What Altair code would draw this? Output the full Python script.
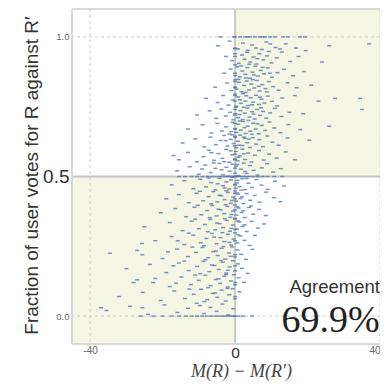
import altair as alt
import pandas as pd

# ---- data: (M(R)-M(R'), fraction of votes) ----
row_100_x = [-4.1, -0.3, 0, 1.4, 2.8, 3.4, 4.1, 5.5, 6.9, 7.6, 8.3, 9.7, 11.0, 13.3, 14.6, 17.9, 19.3]

band_95 = [(-4.7,.968),(-1.5,.985),(0.8,.957),(2.2,.978),(3.5,.952),(4.7,.971),(5.8,.96),(7.4,.955),(8.6,.982),(9.7,.975),(11.2,.962),(12.4,.957),(14.0,.975),(16.8,.96),(19.5,.951),(26.0,.968),(37.0,.975),(0,.958)]
band_90 = [(-2.5,.93),(-0.8,.915),(0,.94),(1.0,.905),(1.9,.935),(2.6,.92),(3.3,.945),(4.2,.91),(5.1,.928),(5.9,.903),(6.7,.94),(7.8,.918),(8.8,.932),(10.1,.907),(11.5,.925),(12.9,.946),(15.2,.912),(17.5,.93),(24.0,.91),(3.9,.902),(6.2,.922),(9.3,.948)]
band_85 = [(-3.0,.87),(-1.2,.885),(0,.862),(0.6,.893),(1.3,.857),(2.0,.878),(2.8,.866),(3.4,.89),(4.1,.852),(4.8,.874),(5.6,.895),(6.3,.86),(7.1,.88),(8.0,.868),(9.0,.889),(10.2,.855),(11.7,.872),(13.5,.884),(16.0,.861),(19.0,.876),(1.7,.896),(3.0,.853),(5.2,.864),(7.6,.891),(9.6,.87)]
band_80 = [(-5.5,.82),(-2.2,.835),(-1.0,.808),(0,.846),(0.4,.813),(1.1,.838),(1.8,.803),(2.5,.826),(3.2,.842),(3.8,.81),(4.5,.831),(5.3,.817),(6.0,.844),(6.8,.806),(7.5,.829),(8.4,.815),(9.3,.84),(10.5,.822),(12.0,.809),(14.5,.836),(17.0,.818),(21.0,.827),(0.9,.848),(2.9,.801),(4.9,.847),(6.5,.823),(8.8,.803),(0,.818)]
band_75 = [(-8.0,.78),(-4.8,.765),(-3.3,.79),(-1.8,.756),(-0.6,.774),(0,.795),(0.3,.752),(0.9,.785),(1.6,.762),(2.2,.797),(2.9,.77),(3.6,.754),(4.3,.782),(5.0,.766),(5.8,.791),(6.6,.758),(7.3,.777),(8.1,.763),(9.0,.788),(10.2,.769),(11.6,.753),(13.0,.781),(16.5,.79),(23.0,.77),(27.6,.78),(34.5,.78),(1.3,.775),(3.1,.789),(4.7,.757),(6.9,.784)]
band_70 = [(-10.5,.72),(-7.0,.735),(-5.2,.708),(-3.8,.742),(-2.6,.717),(-1.4,.73),(-0.5,.703),(0,.725),(0.2,.748),(0.8,.711),(1.5,.736),(2.1,.704),(2.7,.727),(3.4,.745),(4.0,.713),(4.7,.732),(5.4,.706),(6.1,.74),(6.9,.719),(7.7,.733),(8.6,.709),(9.7,.728),(11.0,.744),(12.8,.715),(15.0,.73),(18.8,.725),(35.0,.74),(1.2,.722),(2.4,.748),(3.7,.701),(5.1,.724),(7.2,.746)]
band_65 = [(-13.0,.67),(-9.0,.685),(-6.5,.656),(-4.9,.69),(-3.6,.663),(-2.5,.678),(-1.6,.652),(-0.7,.694),(0,.672),(0.3,.658),(0.9,.687),(1.6,.666),(2.2,.697),(2.9,.654),(3.5,.68),(4.2,.662),(5.0,.691),(5.7,.67),(6.5,.653),(7.4,.683),(8.3,.665),(9.5,.695),(10.8,.674),(12.5,.657),(14.7,.686),(18.0,.668),(26.0,.68),(-1.1,.661),(1.3,.699),(2.6,.675),(4.6,.651),(6.2,.689)]
band_60 = [(-14.5,.62),(-11.0,.635),(-8.5,.606),(-6.8,.641),(-5.3,.614),(-4.0,.629),(-3.0,.647),(-2.1,.609),(-1.2,.633),(-0.4,.618),(0,.644),(0.3,.603),(0.8,.626),(1.4,.648),(2.0,.611),(2.7,.637),(3.4,.621),(4.1,.604),(4.9,.639),(5.8,.616),(6.7,.632),(7.7,.607),(8.9,.645),(10.3,.623),(12.0,.612),(14.5,.638),(20.5,.63),(-2.6,.628),(-0.8,.649),(1.1,.612),(2.4,.641),(3.8,.634)]
band_55 = [(-17.0,.575),(-15.5,.56),(-13.0,.586),(-10.5,.553),(-8.7,.571),(-7.2,.594),(-5.8,.558),(-4.6,.582),(-3.5,.565),(-2.5,.597),(-1.6,.551),(-0.8,.578),(0,.563),(0.2,.59),(0.7,.556),(1.3,.574),(2.0,.598),(2.8,.561),(3.6,.584),(4.5,.552),(5.5,.576),(6.6,.593),(7.9,.559),(9.4,.58),(11.5,.566),(14.0,.588),(-6.5,.585),(-3.0,.553),(-1.2,.592),(0.9,.569),(2.4,.581),(16.5,.56)]
row_50_x = [-15.5, -13.8, -12.0, -10.5, -9.0, -7.6, -6.4, -5.2, -4.1, -3.0, -2.0, -1.0, -0.3, 0, 0.4, 1.2, 2.1, 3.0, 4.0, 5.1, 6.3, 7.6, 9.0, 10.8, 13.0]
band_50 = [(-16.0,.52),(-12.5,.535),(-10.0,.508),(-8.2,.541),(-6.7,.514),(-5.4,.529),(-4.3,.547),(-3.3,.506),(-2.4,.533),(-1.5,.519),(-0.7,.544),(0,.512),(0.3,.537),(0.9,.503),(1.6,.526),(2.4,.548),(3.2,.511),(4.1,.539),(5.1,.522),(6.2,.505),(7.4,.531),(8.8,.546),(10.5,.516),(12.6,.528),(-9.1,.527),(-5.9,.549),(-3.7,.524),(-1.9,.501),(0.6,.543),(2.8,.518)]
band_45 = [(-17.5,.47),(-14.0,.485),(-11.5,.456),(-9.6,.49),(-8.0,.463),(-6.6,.478),(-5.4,.452),(-4.3,.494),(-3.3,.467),(-2.4,.481),(-1.6,.455),(-0.8,.497),(0,.472),(0.2,.458),(0.7,.486),(1.3,.464),(2.0,.492),(2.8,.453),(3.7,.476),(4.7,.461),(5.9,.489),(7.3,.469),(9.0,.454),(11.0,.483),(13.5,.466),(-7.3,.495),(-4.8,.474),(-2.9,.459),(-1.1,.488),(0.5,.477),(1.7,.451),(3.2,.493)]
band_40 = [(-19.0,.42),(-15.5,.435),(-12.8,.406),(-10.6,.44),(-8.8,.413),(-7.3,.428),(-6.0,.446),(-4.9,.409),(-3.8,.431),(-2.9,.417),(-2.0,.443),(-1.2,.404),(-0.5,.426),(0,.448),(0.3,.412),(0.8,.437),(1.5,.421),(2.3,.403),(3.2,.439),(4.2,.415),(5.4,.432),(6.8,.408),(8.5,.444),(10.8,.424),(-9.7,.447),(-6.6,.402),(-4.3,.433),(-2.4,.449),(-0.9,.414),(0.6,.441),(1.9,.427),(12.5,.41)]
band_35 = [(-20.5,.37),(-16.5,.385),(-13.5,.356),(-11.2,.39),(-9.3,.363),(-7.7,.378),(-6.3,.396),(-5.1,.359),(-4.0,.381),(-3.0,.367),(-2.1,.393),(-1.3,.354),(-0.6,.376),(0,.398),(0.4,.362),(1.0,.387),(1.8,.371),(2.7,.353),(3.8,.389),(5.0,.365),(6.6,.382),(8.5,.36),(-10.3,.397),(-7.0,.352),(-4.6,.383),(-2.6,.399),(-1.0,.364),(0.7,.391),(2.2,.377),(4.4,.394)]
band_30 = [(-25.0,.32),(-18.0,.335),(-14.5,.306),(-12.0,.34),(-10.0,.313),(-8.3,.328),(-6.8,.346),(-5.5,.309),(-4.3,.331),(-3.3,.317),(-2.3,.343),(-1.4,.304),(-0.6,.326),(0,.348),(0.5,.312),(1.2,.337),(2.1,.321),(3.2,.303),(4.6,.339),(6.3,.315),(-11.0,.347),(-7.5,.302),(-5.0,.333),(-2.8,.349),(-1.0,.314),(0.8,.341),(2.6,.327),(8.0,.33)]
band_25 = [(-22.0,.27),(-17.5,.285),(-14.0,.256),(-11.5,.29),(-9.5,.263),(-7.9,.278),(-6.4,.296),(-5.1,.259),(-4.0,.281),(-3.0,.267),(-2.0,.293),(-1.1,.254),(-0.4,.276),(0,.298),(0.6,.262),(1.5,.287),(2.6,.271),(4.0,.253),(5.5,.289),(-12.8,.297),(-8.6,.252),(-5.8,.283),(-3.5,.299),(-1.6,.264),(0.9,.291),(-15.8,.27),(-25.7,.26)]
band_20 = [(-34.5,.225),(-27.0,.235),(-20.0,.206),(-16.0,.24),(-13.0,.213),(-10.8,.228),(-9.0,.246),(-7.4,.209),(-6.0,.231),(-4.8,.217),(-3.7,.243),(-2.7,.204),(-1.7,.226),(-0.8,.248),(0,.212),(0.7,.237),(1.7,.221),(3.0,.203),(4.8,.239),(-11.8,.247),(-8.2,.202),(-5.3,.233),(-3.2,.249),(-1.2,.214),(-18.5,.23),(-25.6,.22)]
band_15 = [(-30.0,.17),(-23.5,.185),(-19.0,.156),(-15.5,.19),(-12.8,.163),(-10.5,.178),(-8.7,.196),(-7.1,.159),(-5.7,.181),(-4.5,.167),(-3.4,.193),(-2.4,.154),(-1.5,.176),(-0.6,.198),(0,.162),(0.8,.187),(1.9,.171),(3.5,.153),(-14.0,.197),(-9.6,.152),(-6.4,.183),(-3.9,.199),(-2.0,.164),(-17.0,.18)]
band_10 = [(-28.0,.12),(-22.0,.135),(-18.0,.106),(-14.8,.14),(-12.2,.113),(-10.0,.128),(-8.2,.146),(-6.7,.109),(-5.3,.131),(-4.1,.117),(-3.0,.143),(-2.0,.104),(-1.1,.126),(-0.3,.148),(0,.112),(1.0,.137),(2.5,.121),(-11.0,.147),(-7.4,.102),(-4.6,.133),(-2.5,.149),(-16.3,.118),(-27.0,.13),(-22.6,.12)]
band_05 = [(-32.0,.07),(-25.5,.085),(-20.5,.056),(-16.8,.09),(-13.8,.063),(-11.4,.078),(-9.4,.096),(-7.7,.059),(-6.2,.081),(-4.9,.067),(-3.7,.093),(-2.6,.054),(-1.6,.076),(-0.7,.098),(0,.062),(1.2,.087),(-12.6,.097),(-8.5,.052),(-5.5,.083),(-2.1,.099)]
band_00 = [(-37.0,.03),(-35.5,.02),(-29.0,.035),(-25.6,.03),(-24.0,.006),(-19.5,.04),(-15.9,.013),(-13.0,.028),(-10.6,.046),(-8.6,.009),(-6.8,.031),(-5.1,.017),(-3.5,.043),(-1.9,.004),(-0.5,.026),(-9.7,.038)]
row_00_x = [-26.0, -22.5, -20.0, -17.5, -15.5, -13.6, -12.0, -10.5, -9.1, -7.8, -6.6, -5.4, -4.3, -3.2, -2.2, -1.2, -0.4, 0, 0.9, 2.2, 4.7]
col_0_y = [0.07, 0.12, 0.18, 0.22, 0.27, 0.31, 0.35, 0.38, 0.42, 0.44, 0.47, 0.53, 0.56, 0.58, 0.61, 0.64, 0.67, 0.69, 0.72, 0.74, 0.77, 0.79, 0.82, 0.84, 0.87, 0.9, 0.93, 0.96]

x_ticks = [-40, 0, 40]
y_ticks = [0.0, 0.5, 1.0]
agreement_label = "Agreement"
agreement_value = "69.9%"

# ---- assemble ----
pts = []
pts += [(x, 1.0) for x in row_100_x]
for b in [band_95, band_90, band_85, band_80, band_75, band_70, band_65, band_60, band_55,
          band_50, band_45, band_40, band_35, band_30, band_25, band_20, band_15, band_10,
          band_05, band_00]:
    pts += b
pts += [(x, 0.5) for x in row_50_x]
pts += [(x, 0.0) for x in row_00_x]
pts += [(0, y) for y in col_0_y]
df = pd.DataFrame(pts, columns=["d", "f"])

X_MIN, X_MAX = -45, 40
Y_MIN, Y_MAX = -0.1, 1.1
xs = alt.Scale(domain=[X_MIN, X_MAX], nice=False, zero=False)
ys = alt.Scale(domain=[Y_MIN, Y_MAX], nice=False, zero=False)

xaxis = alt.Axis(
    values=x_ticks, labelExpr="'' + datum.value", grid=False, ticks=False, domain=False,
    labelPadding=1, labelFont="Liberation Sans", labelFlush=True,
    labelFontSize={"condition": {"test": "datum.value === 0", "value": 15.5}, "value": 10},
    labelColor={"condition": {"test": "datum.value === 0", "value": "#333333"}, "value": "#666666"},
    title="M(R) − M(R′)", titleFont="Liberation Serif", titleFontStyle="italic",
    titleFontWeight="normal", titleFontSize=18, titleColor="#444444",
    titleX=169, titleY=32, titleBaseline="alphabetic", titleAlign="center",
)
yaxis = alt.Axis(
    values=y_ticks, format=".1f", grid=False, ticks=False, domain=False,
    labelPadding=3, labelFont="Liberation Sans",
    labelFontSize={"condition": {"test": "datum.value === 0.5", "value": 19}, "value": 9.5},
    labelColor={"condition": {"test": "datum.value === 0.5", "value": "#333333"}, "value": "#666666"},
    title="Fraction of user votes for R against R′", titleFont="Liberation Sans",
    titleFontWeight="normal", titleFontSize=19, titleColor="#333333",
    titleX=-35, titleY=166, titleBaseline="alphabetic", titleAngle=270, titleAlign="center",
)

quad = pd.DataFrame({"x": [0, X_MIN], "x2": [X_MAX, 0], "y": [0.5, Y_MIN], "y2": [Y_MAX, 0.5]})
shade = alt.Chart(quad).mark_rect(color="#f5f5e3").encode(
    x=alt.X("x:Q", scale=xs, axis=xaxis), x2="x2:Q",
    y=alt.Y("y:Q", scale=ys, axis=yaxis), y2="y2:Q",
)

gx = alt.Chart(pd.DataFrame({"v": [-40, 40]})).mark_rule(
    color="#cccccc", strokeDash=[3, 3], strokeWidth=1).encode(x=alt.X("v:Q", scale=xs, axis=xaxis))
gy = alt.Chart(pd.DataFrame({"v": [0.0, 1.0]})).mark_rule(
    color="#cccccc", strokeDash=[3, 3], strokeWidth=1).encode(y=alt.Y("v:Q", scale=ys, axis=yaxis))

cx = alt.Chart(pd.DataFrame({"v": [0]})).mark_rule(
    color="#c6c6c6", strokeWidth=1.8).encode(x=alt.X("v:Q", scale=xs, axis=xaxis))
cy = alt.Chart(pd.DataFrame({"v": [0.5]})).mark_rule(
    color="#c6c6c6", strokeWidth=1.8).encode(y=alt.Y("v:Q", scale=ys, axis=yaxis))

bx = alt.Chart(pd.DataFrame({"v": [X_MIN]})).mark_rule(
    color="#cccccc", strokeWidth=1.5).encode(x=alt.X("v:Q", scale=xs, axis=xaxis))
by = alt.Chart(pd.DataFrame({"v": [Y_MIN, Y_MAX]})).mark_rule(
    color="#cccccc", strokeWidth=1.5).encode(y=alt.Y("v:Q", scale=ys, axis=yaxis))

points = alt.Chart(df).mark_tick(
    orient="horizontal", size=4, thickness=1.5, color="#4c70b0", opacity=0.75
).encode(
    x=alt.X("d:Q", scale=xs, axis=xaxis),
    y=alt.Y("f:Q", scale=ys, axis=yaxis),
)

t1 = alt.Chart(pd.DataFrame({"x": [15.0], "y": [0.082], "t": [agreement_label]})).mark_text(
    align="left", baseline="alphabetic", font="Liberation Sans", fontSize=18.5, color="#333333"
).encode(x=alt.X("x:Q", scale=xs, axis=xaxis), y=alt.Y("y:Q", scale=ys, axis=yaxis), text="t:N")
t2 = alt.Chart(pd.DataFrame({"x": [12.8], "y": [-0.056], "t": [agreement_value]})).mark_text(
    align="left", baseline="alphabetic", font="Liberation Serif", fontSize=38, color="#222222"
).encode(x=alt.X("x:Q", scale=xs, axis=xaxis), y=alt.Y("y:Q", scale=ys, axis=yaxis), text="t:N")

chart = alt.layer(shade, gx, gy, cx, cy, points, bx, by, t1, t2).properties(
    width=308, height=335,
    autosize=alt.AutoSizeParams(type="none"),
    padding={"left": 64, "top": 1, "right": 0, "bottom": 37},
    background="white",
).configure_view(stroke=None)

chart.save("out.html", embed_options={"renderer": "svg", "actions": False})
